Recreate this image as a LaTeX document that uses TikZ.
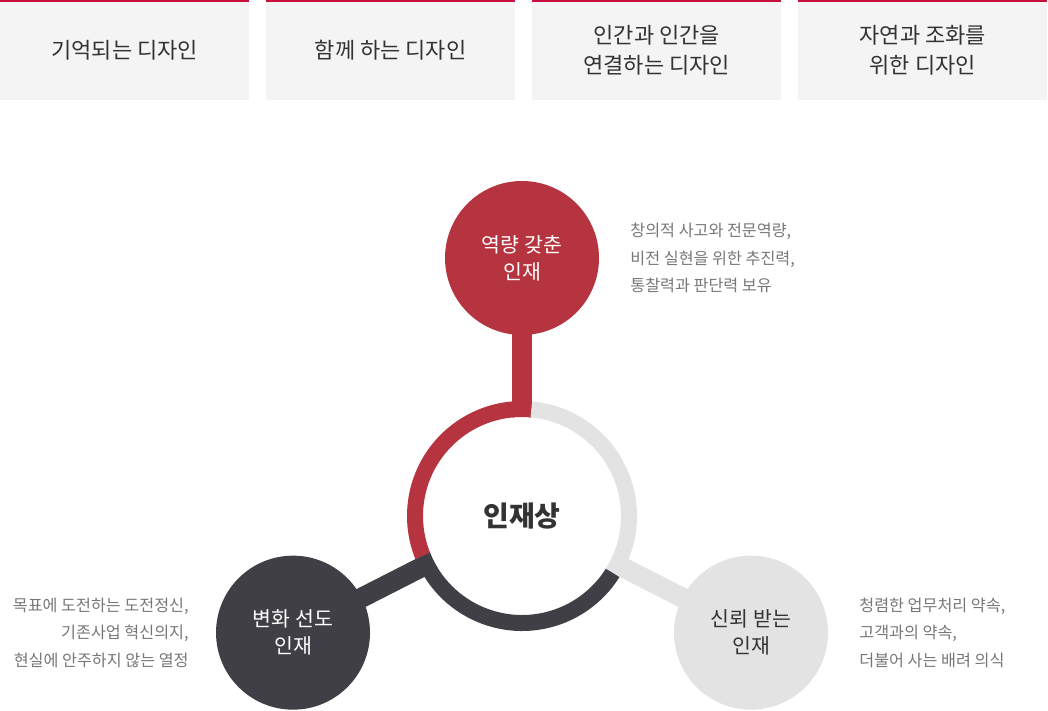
\documentclass[tikz,border=0pt]{standalone}
\usepackage{fontspec}
\setmainfont{Noto Sans CJK KR}
\usepackage{tikz}
\usetikzlibrary{positioning,backgrounds}
\definecolor{topred}{HTML}{C8103E}
\definecolor{capred}{HTML}{B5343F}
\definecolor{capdark}{HTML}{403F46}
\definecolor{capgray}{HTML}{E2E3E2}
\definecolor{boxgray}{HTML}{F4F4F4}
\definecolor{txtdark}{HTML}{333333}
\definecolor{txtgray}{HTML}{777777}

\begin{document}
\begin{tikzpicture}[x=1pt,y=1pt,box/.style={fill=boxgray,minimum width=249pt,minimum height=100pt,anchor=north west,inner sep=0pt,text=txtdark,align=center,font=\fontsize{22}{30}\selectfont},cap/.style n args={2}{circle,fill=#1,text=#2,minimum size=154pt,inner sep=0pt,align=center,font=\fontsize{20.5}{27}\selectfont},desc/.style={inner sep=0pt,text=txtgray,font=\fontsize{16.2}{27.5}\selectfont},ring/.style={line width=16pt},stem/.style={line width=20pt}]
\useasboundingbox (0,0) rectangle (1048,711);
\foreach \x/\1 in %
{0/기억되는 디자인,1/함께 하는 디자인,2/인간과 인간을\\연결하는 디자인,3/자연과 조화를\\위한 디자인} {
   \node[box] (box\x) at (\x*266,711) {\1};
   \draw[topred,line width=2pt] ([yshift=-1pt]box\x.north west) -- ([yshift=-1pt]box\x.north east);
}
\node[circle,fill=white,minimum size=198pt,inner sep=0pt,text=txtdark,font=\fontsize{28}{28}\selectfont\bfseries] (core) at (522,195) {인재상};
\foreach \a/\b/\c in %
{85/202/capred,202/328/capdark,328/445/capgray} {
   \draw[ring,\c] (core.center) ++(\a:107) arc[start angle=\a,end angle=\b,radius=107];
}
\path (core.center) ++(90:258) node[cap={capred}{white}] (cap1) {역량 갖춘\\인재};
\path (core.center) ++(207:257) node[cap={capdark}{white}] (cap2) {변화 선도\\인재};
\path (core.center) ++(-27:257) node[cap={capgray}{txtdark}] (cap3) {신뢰 받는\\인재};
\begin{scope}[on background layer]
\draw[stem,capred] (core.center) -- (cap1.center);
\draw[stem,capdark] (core.center) -- (cap2.center);
\draw[stem,capgray] (core.center) -- (cap3.center);
\end{scope}
\node[desc,align=left,right=31pt of cap1] (desc1) {창의적 사고와 전문역량,\\비전 실현을 위한 추진력,\\통찰력과 판단력 보유};
\node[desc,align=right,left=27pt of cap2] (desc2) {목표에 도전하는 도전정신,\\기존사업 혁신의지,\\현실에 안주하지 않는 열정};
\node[desc,align=left,right=31pt of cap3] (desc3) {청렴한 업무처리 약속,\\고객과의 약속,\\더불어 사는 배려 의식};
\end{tikzpicture}
\end{document}
